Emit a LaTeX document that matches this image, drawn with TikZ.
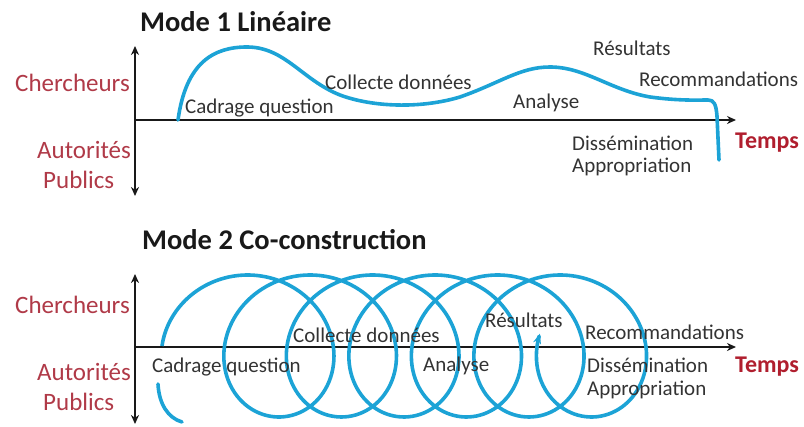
\documentclass[tikz,border=0pt]{standalone}
\usepackage{fontspec}
\setmainfont{Carlito}
\usetikzlibrary{arrows.meta}
\definecolor{cblue}{HTML}{1CA3D6}
\definecolor{myred}{HTML}{B03A48}
\definecolor{tred}{HTML}{B01E2E}
\definecolor{txt}{HTML}{333333}
\tikzset{
  lbl/.style={inner sep=0pt, font=\fontsize{21}{21}\selectfont, text=txt, anchor=west},
  rlbl/.style={inner sep=0pt, font=\fontsize{25}{25}\selectfont, text=myred, anchor=west},
  ttl/.style={inner sep=0pt, font=\bfseries\fontsize{28.5}{28.5}\selectfont, text=black!90, anchor=west},
  tmp/.style={inner sep=0pt, font=\bfseries\fontsize{24}{24}\selectfont, text=tred, anchor=west},
  axh/.style={line width=2.4pt, black!90, -{Stealth[length=9pt,width=8pt]}},
  axv/.style={line width=2.4pt, black!90, {Stealth[length=9pt,width=8pt]}-{Stealth[length=9pt,width=8pt]}},
  wave/.style={line width=3.6pt, draw=cblue, line cap=round, line join=round},
}
\begin{document}
\begin{tikzpicture}[x=1pt,y=-1pt]
\useasboundingbox (0,0) rectangle (804,427);
% ---------- Mode 1 ----------
\node[ttl] (t1) at (140,22) {Mode 1 Linéaire};
\coordinate (v1t) at (135,46);
\coordinate (v1b) at (135,196);
\coordinate (h1s) at (135,120);
\coordinate (h1e) at (736,120);
\draw[axv] (v1t) -- (v1b);
\draw[axh] (h1s) -- (h1e);
\draw[wave] (178,120) .. controls (186,62) and (214,47) .. (247,47)
  .. controls (285,47) and (302,80) .. (340,95)
  .. controls (372,107) and (420,109) .. (460,97)
  .. controls (500,83) and (520,67) .. (550,67)
  .. controls (585,67) and (610,90) .. (650,97)
  .. controls (680,101) and (698,100) .. (708,100)
  .. controls (714,100) and (716,104) .. (717,116) -- (719,160);
\node[rlbl] (c1) at (15,83) {Chercheurs};
\node[rlbl] (a1) at (37,150) {Autorités};
\node[rlbl] (p1) at (43,180) {Publics};
\node[lbl] (cq1) at (185,108) {Cadrage question};
\node[lbl] (cd1) at (325,82) {Collecte données};
\node[lbl] (r1) at (593,48) {Résultats};
\node[lbl] (rc1) at (639,79) {Recommandations};
\node[lbl] (an1) at (513,103) {Analyse};
\node[lbl] (d1) at (572,143) {Dissémination};
\node[lbl] (ap1) at (572,167) {Appropriation};
\node[tmp] (tp1) at (735,143) {Temps};
% ---------- Mode 2 ----------
\node[ttl] (t2) at (142,240) {Mode 2 Co-construction};
\coordinate (v2t) at (135,274);
\coordinate (v2b) at (135,424);
\coordinate (h2s) at (135,347);
\coordinate (h2e) at (736,347);
\draw[axv] (v2t) -- (v2b);
\draw[axh] (h2s) -- (h2e);
\draw[wave, line cap=butt, -{Stealth[length=10pt,width=8pt]}]
  plot[smooth, domain=0:2170, samples=600, variable=\t]
  ({232 + 0.17366*\t - 70*cos(\t)}, {346 - 71*sin(\t)});
\draw[wave] (158,384) .. controls (159,404) and (168,418) .. (182,422);
\node[rlbl] (c2) at (15,305) {Chercheurs};
\node[rlbl] (a2) at (37,372) {Autorités};
\node[rlbl] (p2) at (43,402) {Publics};
\node[lbl] (cq2) at (152,367) {Cadrage question};
\node[lbl] (cd2) at (293,335) {Collecte données};
\node[lbl] (an2) at (423,366) {Analyse};
\node[lbl] (r2) at (485,320) {Résultats};
\node[lbl] (rc2) at (585,332) {Recommandations};
\node[lbl] (d2) at (587,365) {Dissémination};
\node[lbl] (ap2) at (587,390) {Appropriation};
\node[tmp] (tp2) at (735,367) {Temps};
\end{tikzpicture}
\end{document}
